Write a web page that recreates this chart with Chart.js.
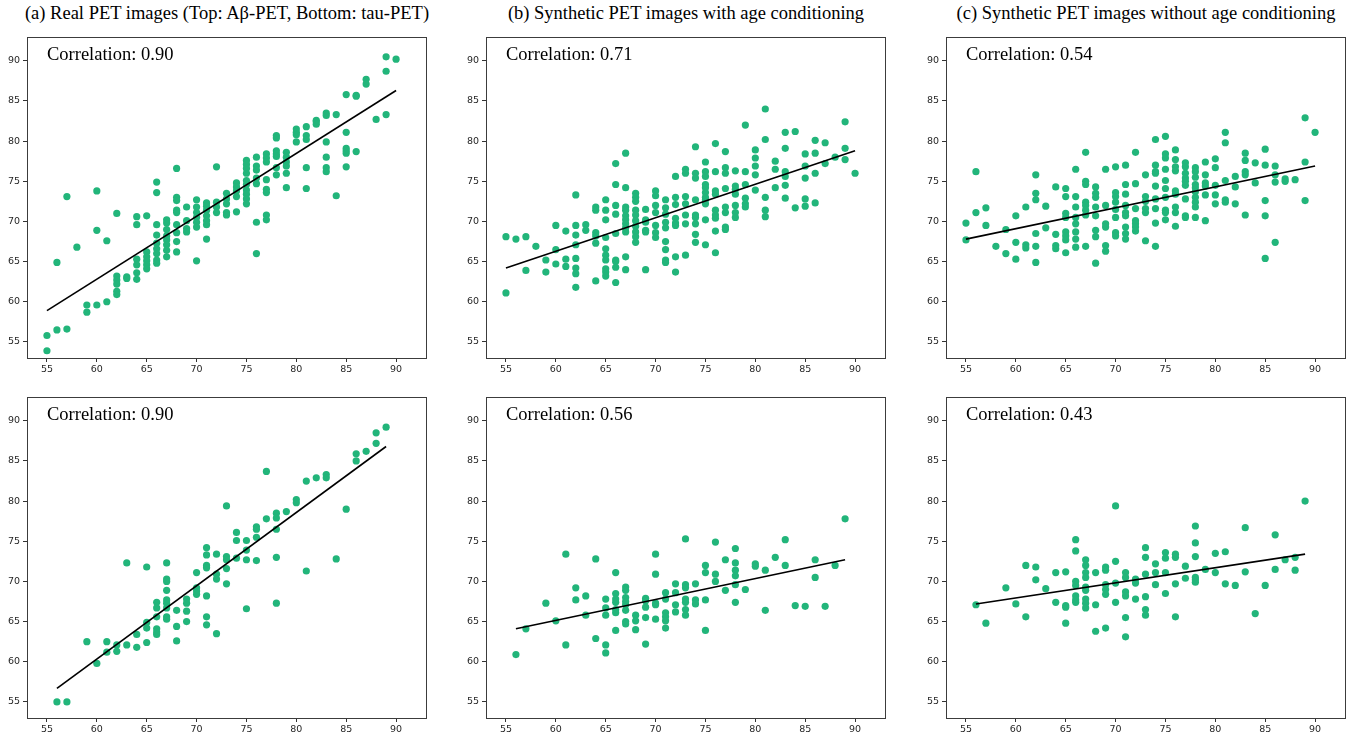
<!DOCTYPE html>
<html>
<head>
<meta charset="utf-8">
<script src="https://cdn.jsdelivr.net/npm/chart.js@4.4.0/dist/chart.umd.min.js"></script>
<style>
    body { margin: 0; background: #fff; width: 1350px; height: 736px; overflow: hidden; position: relative; }
    canvas { position: absolute; }
    .title, .corr { position: absolute; font-family: 'Liberation Serif', 'Times New Roman', serif; font-size: 18.5px; line-height: 18px; white-space: nowrap; color: #000; }
    .title { transform: translateX(-50%); }
</style>
</head>
<body>
<script>
// each row: age, then the predicted ages at that age
const realAbeta = [
    [55, 55.8, 53.9], [56, 64.9, 56.5], [57, 73.1, 56.6], [58, 66.8], [59, 59.6, 58.7],
    [60, 73.8, 68.9, 59.6], [61, 67.6, 60.0], [62, 71.0, 63.2, 62.7, 62.2, 61.3, 60.9],
    [63, 63.1, 62.9], [64, 70.6, 69.6, 65.3, 64.6, 63.6, 62.8],
    [65, 70.7, 66.2, 65.6, 65.1, 64.6, 64.1],
    [66, 74.9, 73.6, 69.6, 68.3, 67.3, 66.6, 66.0, 65.2, 64.8],
    [67, 70.2, 69.8, 69.0, 68.2, 67.7, 67.1, 66.4, 65.6],
    [68, 76.6, 73.0, 72.6, 71.4, 71.1, 69.6, 68.6, 67.5, 66.2],
    [69, 71.8, 70.1, 69.1, 68.7], [70, 72.7, 71.8, 71.1, 70.5, 69.9, 69.3, 65.1],
    [71, 72.3, 71.9, 71.4, 70.7, 70.1, 69.6, 67.8], [72, 76.8, 72.4, 71.8, 71.1],
    [73, 73.5, 72.8, 72.2, 71.1, 70.8], [74, 74.8, 74.3, 73.8, 73.1, 71.2],
    [75, 77.6, 77.1, 76.6, 76.0, 75.1, 74.6, 73.9, 73.4, 72.8, 72.2],
    [76, 78.0, 76.9, 76.4, 75.4, 74.7, 69.9, 66.0],
    [77, 78.4, 77.9, 77.4, 75.2, 74.0, 73.6, 70.8, 70.2],
    [78, 80.7, 80.4, 78.8, 78.4, 78.1, 76.7, 75.8], [79, 78.6, 78.0, 77.4, 76.9, 76.0, 74.2],
    [80, 81.5, 81.1, 80.8, 79.9], [81, 81.8, 80.7, 80.2, 76.7, 74.1], [82, 82.6, 82.4, 82.1],
    [83, 83.5, 83.2, 79.9, 78.0, 76.7, 76.2], [84, 83.3, 73.2],
    [85, 85.8, 81.1, 79.1, 78.8, 78.5, 76.8], [86, 85.7, 85.6, 78.7], [87, 87.7, 87.1],
    [88, 82.7], [89, 90.5, 88.7, 83.3], [90, 90.2]
];
const realAbetaFit = [58.9, 86.3];

const synthAgeAbeta = [
    [55, 68.1, 61.1], [56, 67.8], [57, 68.1, 63.9], [58, 66.9], [59, 65.2, 63.7],
    [60, 69.5, 66.5, 64.7], [61, 68.8, 65.3, 64.4], [62, 73.3, 69.5, 68.3, 67.1, 65.4, 64.2, 63.5, 61.8],
    [63, 69.6, 68.9], [64, 71.8, 71.4, 68.6, 68.2, 67.3, 62.6],
    [65, 72.7, 71.4, 70.2, 68.0, 66.6, 65.8, 65.2, 64.1, 63.7, 63.2],
    [66, 77.2, 74.6, 72.0, 70.9, 68.5, 65.2, 65.0, 64.3, 62.4],
    [67, 78.5, 74.2, 71.8, 71.4, 70.7, 70.2, 69.7, 69.2, 68.7, 65.6, 64.0],
    [68, 73.5, 73.0, 72.5, 71.4, 70.8, 70.1, 69.4, 68.7, 68.1, 67.4],
    [69, 71.5, 70.2, 69.9, 68.9, 68.7, 64.0], [70, 73.8, 73.2, 72.0, 71.1, 69.5, 68.6, 68.0],
    [71, 72.7, 71.7, 70.9, 69.9, 69.2, 67.5, 66.5, 65.2, 64.9],
    [72, 75.6, 73.0, 72.1, 70.4, 69.8, 69.5, 65.6, 63.7],
    [73, 76.5, 76.0, 73.1, 72.2, 70.8, 69.7, 65.8],
    [74, 79.3, 76.0, 75.4, 72.7, 70.8, 70.5, 69.7, 68.4, 67.4],
    [75, 77.4, 76.2, 75.6, 74.6, 74.2, 73.6, 73.0, 72.7, 72.2, 70.2, 67.1],
    [76, 79.7, 76.2, 73.8, 73.4, 71.4, 70.8, 70.4, 68.8, 66.1],
    [77, 78.7, 76.7, 76.0, 74.1, 71.8, 71.1, 69.3, 69.0],
    [78, 76.3, 74.4, 74.0, 73.4, 72.0, 71.1, 70.5], [79, 82.0, 76.2, 74.6, 72.9, 72.2, 71.8],
    [80, 78.9, 77.9, 76.9, 75.8, 73.9], [81, 84.0, 80.2, 73.0, 71.4, 70.6], [82, 77.5, 76.5, 74.2],
    [83, 81.1, 79.1, 76.2, 75.6, 74.5, 72.9], [84, 81.2, 71.7], [85, 78.4, 76.9, 75.4, 72.8, 71.9],
    [86, 80.1, 78.5, 76.0, 72.3], [87, 79.8, 77.2], [88, 78.0], [89, 82.4, 79.1, 77.7], [90, 76.0]
];
const synthAgeAbetaFit = [64.2, 78.8];

const synthNoAgeAbeta = [
    [55, 69.8, 67.7], [56, 76.2, 71.1], [57, 71.7, 69.5], [58, 66.9], [59, 69.0, 66.0],
    [60, 70.7, 67.4, 65.3], [61, 71.8, 67.1, 66.7], [62, 75.8, 73.5, 72.7, 68.5, 66.9, 64.9],
    [63, 71.9, 69.2], [64, 74.3, 68.4, 67.0, 66.6],
    [65, 74.1, 73.1, 71.0, 70.5, 68.7, 68.2, 67.7, 66.1],
    [66, 76.5, 73.1, 71.8, 70.5, 69.7, 68.7, 67.8, 66.8],
    [67, 78.6, 75.0, 74.6, 72.4, 72.0, 71.4, 70.8, 66.9],
    [68, 74.3, 73.5, 73.0, 71.8, 70.7, 68.9, 68.1, 64.8],
    [69, 76.5, 72.0, 69.7, 69.3, 67.0, 66.3], [70, 76.8, 73.6, 73.1, 72.4, 71.5, 70.5, 68.6, 68.2],
    [71, 77.0, 74.6, 73.4, 72.0, 71.1, 70.7, 69.3, 68.5, 67.8],
    [72, 78.6, 74.7, 71.6, 70.1, 69.7, 69.3, 68.8], [73, 75.8, 73.1, 72.5, 71.6, 71.1, 67.6],
    [74, 80.2, 77.0, 76.2, 76.0, 74.4, 72.8, 71.6, 69.8, 66.9],
    [75, 80.6, 78.4, 77.9, 76.5, 75.1, 74.1, 73.0, 71.4, 71.1, 70.2],
    [76, 78.9, 77.7, 76.8, 76.3, 73.8, 73.4, 71.8, 71.1, 69.4],
    [77, 77.3, 76.8, 76.0, 75.4, 75.0, 74.5, 72.8, 70.7, 70.5],
    [78, 76.7, 76.2, 75.5, 74.6, 74.2, 73.7, 73.0, 72.4, 71.8, 70.5],
    [79, 77.4, 75.8, 74.8, 74.4, 73.3, 70.1], [80, 77.8, 76.7, 74.5, 73.3, 72.2],
    [81, 81.1, 79.8, 75.1, 72.7, 72.4], [82, 75.6, 74.3, 72.2], [83, 78.5, 77.6, 76.2, 75.8, 70.8],
    [84, 77.3, 74.8], [85, 79.0, 77.0, 72.6, 70.7, 65.4], [86, 76.9, 75.8, 74.9, 67.4],
    [87, 75.3, 75.0], [88, 75.2], [89, 82.9, 77.4, 72.6], [90, 81.1]
];
const synthNoAgeAbetaFit = [67.8, 76.9];

const realTau = [
    [56, 55.0], [57, 55.0], [59, 62.5], [60, 59.8], [61, 62.5, 61.2], [62, 62.1, 61.3],
    [63, 72.3, 62.1], [64, 63.4, 61.8], [65, 71.8, 64.9, 64.2, 62.4],
    [66, 67.4, 66.7, 65.6, 64.1, 63.7, 63.4],
    [67, 72.3, 70.3, 70.0, 68.9, 67.7, 67.3, 66.7, 65.6, 65.3], [68, 66.4, 64.4, 62.6],
    [69, 67.8, 67.3, 66.3, 65.0], [70, 71.1, 69.2, 68.8, 68.4],
    [71, 74.2, 73.3, 72.0, 71.7, 68.2, 65.6, 64.6], [72, 73.4, 70.9, 70.3, 63.5],
    [73, 79.4, 73.1, 72.7, 71.6, 69.7], [74, 76.1, 75.1, 72.9], [75, 75.1, 73.9, 72.7, 66.6],
    [76, 76.8, 76.5, 75.5, 72.6], [77, 83.7, 77.8], [78, 78.5, 77.9, 76.5, 73.0, 67.3],
    [79, 78.7], [80, 80.2, 79.8], [81, 82.5, 71.3], [82, 82.9], [83, 83.3, 82.9], [84, 72.8],
    [85, 79.0], [86, 85.9, 85.0], [87, 86.2], [88, 88.5, 87.2], [89, 89.2]
];
const realTauFit = [56.7, 86.8];

const synthAgeTau = [
    [56, 60.9], [57, 64.1], [59, 67.3], [60, 65.1], [61, 73.4, 62.1], [62, 69.2, 67.7],
    [63, 68.2, 65.8], [64, 72.8, 62.9], [65, 67.8, 66.7, 65.8, 62.1, 61.1],
    [66, 71.1, 68.5, 67.8, 67.4, 66.5, 66.1, 63.9], [67, 69.3, 68.9, 68.0, 67.5, 67.1, 66.4, 65.0, 64.7],
    [68, 65.8, 65.1, 64.0], [69, 67.9, 67.6, 66.8, 65.5, 62.2], [70, 73.4, 70.9, 67.3, 67.1, 65.3],
    [71, 68.6, 67.8, 66.1, 65.6, 65.1, 64.2], [72, 69.7, 68.6, 67.1, 66.2],
    [73, 75.3, 69.6, 69.2, 67.8, 67.4, 66.5, 65.8], [74, 69.7, 67.7, 67.2], [75, 72.0, 71.1, 67.7, 63.9],
    [76, 74.9, 70.9, 70.0], [77, 72.7, 68.9], [78, 74.1, 72.3, 71.4, 70.7, 69.6, 67.4], [79, 69.0],
    [80, 72.2, 71.9], [81, 71.4, 66.4], [82, 73.0], [83, 75.2, 72.0], [84, 67.0], [85, 66.9],
    [86, 72.7, 70.5], [87, 66.9], [88, 72.0], [89, 77.8]
];
const synthAgeTauFit = [64.1, 72.7];

const synthNoAgeTau = [
    [56, 67.1], [57, 64.8], [59, 69.2], [60, 67.2], [61, 72.0, 65.6], [62, 71.8, 70.2], [63, 69.1],
    [64, 71.1, 67.4], [65, 71.2, 67.0, 66.8, 64.8], [66, 75.2, 73.8, 70.0, 69.5, 68.2, 67.7, 67.4],
    [67, 72.7, 72.0, 71.1, 70.5, 69.3, 68.9, 67.8, 67.3, 66.7], [68, 71.1, 67.1, 63.8],
    [69, 71.8, 71.4, 69.6, 69.0, 68.4, 64.2], [70, 79.4, 72.5, 69.8, 67.4],
    [71, 71.1, 70.5, 68.7, 68.2, 65.5, 63.1], [72, 70.3, 69.8, 67.8],
    [73, 74.2, 73.0, 70.9, 68.1, 66.5, 65.8], [74, 72.2, 71.1, 69.6], [75, 73.6, 72.9, 71.1, 68.5],
    [76, 73.4, 73.0, 69.7, 65.6], [77, 71.9, 70.4], [78, 76.9, 74.8, 73.1, 70.5, 70.2, 69.9],
    [79, 71.5], [80, 73.5, 71.1], [81, 73.7, 69.7], [82, 69.5], [83, 76.7, 71.2], [84, 66.0],
    [85, 69.5], [86, 75.8, 71.5], [87, 72.7], [88, 73.0, 71.4], [89, 80.0]
];
const synthNoAgeTauFit = [67.2, 73.4];

const titles = [
    '(a) Real PET images (Top: A\u03b2-PET, Bottom: tau-PET)',
    '(b) Synthetic PET images with age conditioning',
    '(c) Synthetic PET images without age conditioning'
];
const correlations = ['0.90', '0.71', '0.54', '0.90', '0.56', '0.43'];
const tickValues = [55, 60, 65, 70, 75, 80, 85, 90];
const axisMin = 53, axisMax = 93;

const GREEN = '#22b57a';
const BOX_W = 400, BOX_H = 327, Y_AXIS_W = 27, X_AXIS_H = 24, PAD = 3;
const boxLefts = [27, 486, 946];
const boxTops = [31, 391];

const panels = [
    { rows: realAbeta, fit: realAbetaFit, col: 0, row: 0 },
    { rows: synthAgeAbeta, fit: synthAgeAbetaFit, col: 1, row: 0 },
    { rows: synthNoAgeAbeta, fit: synthNoAgeAbetaFit, col: 2, row: 0 },
    { rows: realTau, fit: realTauFit, col: 0, row: 1 },
    { rows: synthAgeTau, fit: synthAgeTauFit, col: 1, row: 1 },
    { rows: synthNoAgeTau, fit: synthNoAgeTauFit, col: 2, row: 1 }
];

const framePlugin = {
    id: 'frame',
    afterDraw(chart) {
        const a = chart.chartArea;
        const ctx = chart.ctx;
        ctx.save();
        ctx.strokeStyle = '#3c3c3c';
        ctx.lineWidth = 1;
        ctx.strokeRect(Math.round(a.left) + 0.5, Math.round(a.top) + 0.5,
            Math.round(a.right - a.left), Math.round(a.bottom - a.top));
        ctx.restore();
    }
};

function toPoints(rows) {
    const pts = [];
    rows.forEach(r => r.slice(1).forEach(v => pts.push({ x: r[0], y: v })));
    return pts;
}

function fixedTicks(scale) {
    scale.ticks = tickValues.map(v => ({ value: v }));
}

const tickFont = { family: 'DejaVu Sans', size: 9.5 };

titles.forEach((t, i) => {
    const d = document.createElement('div');
    d.className = 'title';
    d.textContent = t;
    d.style.left = (boxLefts[i] + BOX_W / 2) + 'px';
    d.style.top = '4px';
    document.body.appendChild(d);
});

panels.forEach((p, i) => {
    const left = boxLefts[p.col], top = boxTops[p.row];
    const canvas = document.createElement('canvas');
    canvas.width = Y_AXIS_W + BOX_W + PAD;
    canvas.height = PAD + BOX_H + X_AXIS_H;
    canvas.style.left = (left - Y_AXIS_W) + 'px';
    canvas.style.top = (top - PAD) + 'px';
    document.body.appendChild(canvas);

    const ages = p.rows.map(r => r[0]);
    const firstAge = ages[0], lastAge = ages[ages.length - 1];

    new Chart(canvas, {
        type: 'scatter',
        data: {
            datasets: [{
                type: 'line',
                data: [{ x: firstAge, y: p.fit[0] }, { x: lastAge, y: p.fit[1] }],
                borderColor: '#000',
                borderWidth: 1.6,
                pointRadius: 0,
                order: 0
            }, {
                data: toPoints(p.rows),
                backgroundColor: GREEN,
                borderWidth: 0,
                pointRadius: 3.6,
                order: 1
            }]
        },
        options: {
            responsive: false,
            animation: false,
            events: [],
            layout: { padding: { top: PAD, right: PAD, left: 0, bottom: 0 } },
            plugins: { legend: { display: false }, tooltip: { enabled: false } },
            scales: {
                x: {
                    type: 'linear', min: axisMin, max: axisMax,
                    afterBuildTicks: fixedTicks,
                    afterFit: s => { s.height = X_AXIS_H; },
                    border: { display: false },
                    grid: { drawOnChartArea: false, drawTicks: true, tickLength: 4, color: '#333' },
                    ticks: { autoSkip: false, maxRotation: 0, padding: 2, font: tickFont, color: '#262626' }
                },
                y: {
                    type: 'linear', min: axisMin, max: axisMax,
                    afterBuildTicks: fixedTicks,
                    afterFit: s => { s.width = Y_AXIS_W; },
                    border: { display: false },
                    grid: { drawOnChartArea: false, drawTicks: true, tickLength: 4, color: '#333' },
                    ticks: { autoSkip: false, padding: 3, font: tickFont, color: '#262626' }
                }
            }
        },
        plugins: [framePlugin]
    });

    const c = document.createElement('div');
    c.className = 'corr';
    c.textContent = 'Correlation: ' + correlations[i];
    c.style.left = (left + 20) + 'px';
    c.style.top = (top + 14) + 'px';
    document.body.appendChild(c);
});
</script>
</body>
</html>
